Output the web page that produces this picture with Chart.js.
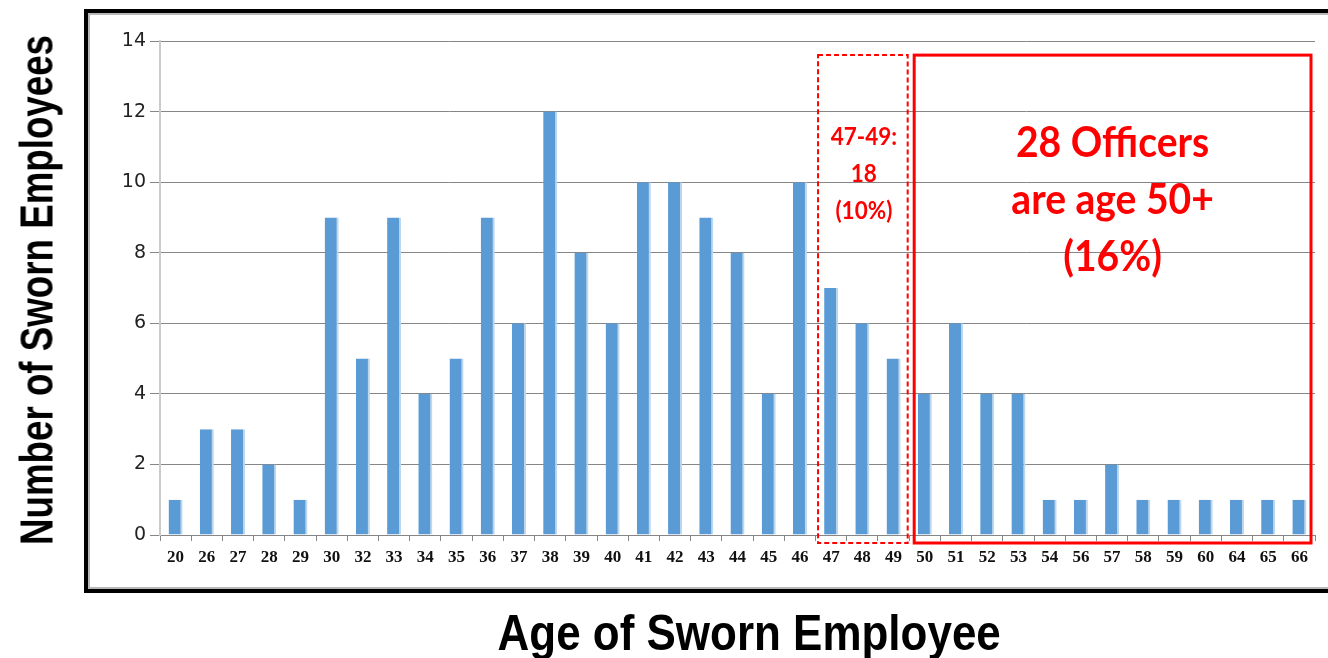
<!DOCTYPE html>
<html>
<head>
<meta charset="utf-8">
<script src="https://cdn.jsdelivr.net/npm/chart.js@4.4.1/dist/chart.umd.min.js"></script>
<style>
  html, body {
    margin: 0;
    padding: 0;
    background: #fff;
    width: 1328px;
    height: 658px;
    overflow: hidden;
  }
  .frame {
    position: absolute;
    left: 84px;
    top: 9px;
    width: 1300px;
    height: 576px;
    border: 4px solid #000;
    box-shadow: inset 0 0 0 2px #b8b8b8;
  }
  #chart {
    position: absolute;
    left: 0;
    top: 0;
  }
  .axis-title {
    position: absolute;
    font-family: "Liberation Sans", Arial, sans-serif;
    font-weight: bold;
    color: #000;
    white-space: nowrap;
    transform-origin: center center;
  }
</style>
</head>
<body>
<div class="frame"></div>
<canvas id="chart" width="1328" height="658"></canvas>
<div class="axis-title" id="yTitle">Number of Sworn Employees</div>
<div class="axis-title" id="xTitle">Age of Sworn Employee</div>
<script>
const ages = ["20", "26", "27", "28", "29", "30", "32", "33", "34", "35", "36", "37", "38",
  "39", "40", "41", "42", "43", "44", "45", "46", "47", "48", "49", "50", "51", "52", "53",
  "54", "56", "57", "58", "59", "60", "64", "65", "66"];
const officerCounts = [1, 3, 3, 2, 1, 9, 5, 9, 4, 5, 9, 6, 12, 8, 6, 10, 10, 9, 8, 4, 10,
  7, 6, 5, 4, 6, 4, 4, 1, 1, 2, 1, 1, 1, 1, 1, 1];
const yMin = 0;
const yMax = 14;
const yStep = 2;

const nearRetirement = ["47", "49"];
const nearRetirementText = ["47-49:", "18", "(10%)"];
const retirementAge = ["50", "66"];
const retirementText = ["28 Officers", "are age 50+", "(16%)"];

// draws the text a bit narrower than the font, like the Calibri original
function squeezedText(ctx, text, cx, cy, sx) {
  ctx.save();
  ctx.translate(cx, cy);
  ctx.scale(sx, 1);
  ctx.fillText(text, 0, 0);
  ctx.restore();
}

const boxesPlugin = {
  id: "boxes",
  afterDatasetsDraw(chart) {
    const ctx = chart.ctx;
    const x = chart.scales.x;
    const y = chart.scales.y;
    const half = (x.getPixelForValue(1) - x.getPixelForValue(0)) / 2;
    const top = y.getPixelForValue(13.6);
    const bottom = y.getPixelForValue(0) + 8;

    ctx.save();
    ctx.strokeStyle = "#ff0000";
    ctx.fillStyle = "#ff0000";
    ctx.textAlign = "center";
    ctx.textBaseline = "middle";

    // dashed box for 47-49
    const dLeft = x.getPixelForValue(ages.indexOf(nearRetirement[0])) - half + 2.5;
    const dRight = x.getPixelForValue(ages.indexOf(nearRetirement[1])) + half - 1.5;
    ctx.lineWidth = 2;
    ctx.setLineDash([5, 3]);
    ctx.strokeRect(dLeft, top, dRight - dLeft, bottom - top);
    ctx.setLineDash([]);

    ctx.font = "bold 25px Lato, 'Open Sans', sans-serif";
    const dMid = (dLeft + dRight) / 2;
    nearRetirementText.forEach((line, i) => {
      squeezedText(ctx, line, dMid + 1, top + 82 + i * 37, 0.9);
    });

    // solid box for 50+
    const sLeft = x.getPixelForValue(ages.indexOf(retirementAge[0])) - half + 5;
    const sRight = x.getPixelForValue(ages.indexOf(retirementAge[1])) + half - 4;
    ctx.lineWidth = 3;
    ctx.strokeRect(sLeft, top, sRight - sLeft, bottom - top);

    ctx.font = "bold 42px Lato, 'Open Sans', sans-serif";
    const sMid = (sLeft + sRight) / 2;
    retirementText.forEach((line, i) => {
      squeezedText(ctx, line, sMid, top + 88 + i * 57, 0.93);
    });
    ctx.restore();
  },
};

new Chart(document.getElementById("chart"), {
  type: "bar",
  data: {
    labels: ages,
    datasets: [
      {
        label: "Sworn Employees",
        data: officerCounts,
        backgroundColor: "#5b9bd5",
        borderColor: "#bdd7ee",
        borderWidth: { top: 0, right: 2, bottom: 0, left: 0 },
        borderSkipped: false,
        barPercentage: 0.45,
        categoryPercentage: 1,
      },
    ],
  },
  options: {
    responsive: false,
    animation: false,
    devicePixelRatio: 1,
    layout: {
      padding: { top: 41, right: 13, left: 0, bottom: 0 },
    },
    plugins: {
      legend: { display: false },
      tooltip: { enabled: false },
    },
    scales: {
      x: {
        afterFit(scale) {
          scale.height = 123;
        },
        grid: {
          offset: true,
          drawOnChartArea: false,
          tickLength: 6,
          color: "#868686",
        },
        border: { color: "#868686", width: 1 },
        ticks: {
          autoSkip: false,
          maxRotation: 0,
          padding: 6,
          color: "#111",
          font: { family: "'Liberation Serif', serif", size: 17, weight: "bold" },
        },
      },
      y: {
        min: yMin,
        max: yMax,
        afterFit(scale) {
          scale.width = 160;
        },
        grid: {
          color: "#868686",
          tickLength: 10,
        },
        border: { color: "#cacaca", width: 2 },
        ticks: {
          stepSize: yStep,
          padding: 4,
          color: "#222",
          font: { family: "'DejaVu Sans', sans-serif", size: 19 },
        },
      },
    },
  },
  plugins: [boxesPlugin],
});

// squeeze the axis titles to the narrow look of the original
function fitTitle(el, fontSize, targetWidth, cx, cy, rotate) {
  el.style.fontSize = fontSize + "px";
  const w = el.offsetWidth;
  const h = el.offsetHeight;
  el.style.left = cx - w / 2 + "px";
  el.style.top = cy - h / 2 + "px";
  const sx = targetWidth / w;
  el.style.transform = (rotate ? "rotate(-90deg) " : "") + "scaleX(" + sx + ")";
}

fitTitle(document.getElementById("yTitle"), 46, 510, 36, 290, true);
fitTitle(document.getElementById("xTitle"), 50, 503, 749, 633, false);
</script>
</body>
</html>
